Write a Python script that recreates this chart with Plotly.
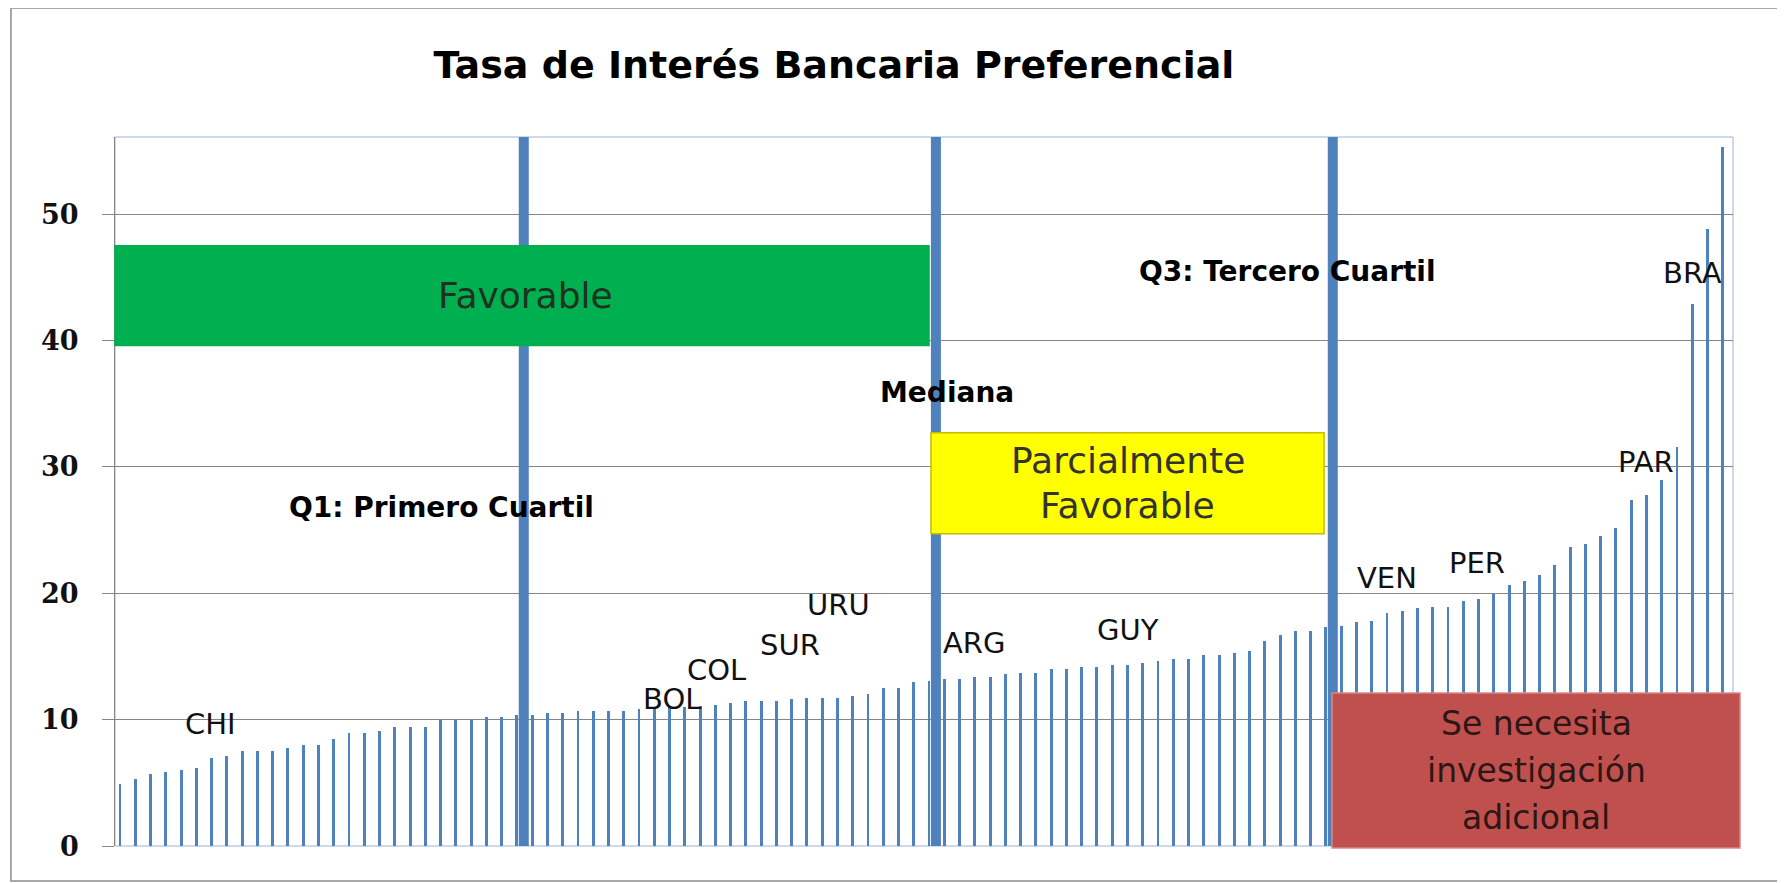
import plotly.graph_objects as go

# ---------------- data ----------------
rates = [
    4.93, 5.33, 5.73, 5.86, 5.99, 6.17, 6.97, 7.12, 7.55, 7.55,
    7.55, 7.73, 8.02, 8.02, 8.50, 8.97, 8.97, 9.13, 9.45, 9.45,
    9.45, 9.97, 9.97, 9.97, 10.24, 10.24, 10.37, 10.37, 10.50, 10.50,
    10.69, 10.69, 10.69, 10.69, 10.82, 10.90, 11.00, 11.00, 11.10, 11.13,
    11.32, 11.45, 11.45, 11.45, 11.61, 11.74, 11.74, 11.74, 11.90, 12.06,
    12.53, 12.53, 12.98, 13.06, 13.25, 13.25, 13.38, 13.38, 13.59, 13.72,
    13.72, 14.04, 14.04, 14.20, 14.20, 14.35, 14.35, 14.51, 14.64, 14.80,
    14.80, 15.12, 15.12, 15.28, 15.44, 16.23, 16.68, 16.99, 16.99, 17.30,
    17.44, 17.70, 17.84, 18.47, 18.63, 18.81, 18.94, 18.94, 19.38, 19.56,
    19.93, 20.65, 20.95, 21.45, 22.25, 23.64, 23.93, 24.55, 25.13, 27.35,
    27.75, 28.95, 31.56, 42.90, 48.84, 55.27,
]
bar_index = list(range(len(rates)))

quartile_index = [26, 53, 79]
quartile_labels = ["Q1: Primero Cuartil", "Mediana", "Q3: Tercero Cuartil"]
quartile_label_x = [20.86, 54.0, 76.31]
quartile_label_y = [26.76, 35.87, 45.45]

countries = ["CHI", "BOL", "COL", "SUR", "URU", "ARG", "GUY", "VEN", "PER", "PAR", "BRA"]
country_x = [5.77, 35.97, 38.89, 43.75, 46.87, 55.78, 65.87, 82.81, 88.73, 99.77, 102.82]
country_y = [9.66, 11.64, 13.94, 15.91, 19.08, 16.07, 17.10, 21.18, 22.41, 30.40, 45.37]

zone_lines = [["Favorable"], ["Parcialmente", "Favorable"], ["Se necesita", "investigación", "adicional"]]
zone_x0 = [-0.5, 52.96, 79.23]
zone_x1 = [52.83, 78.71, 105.96]
zone_y0 = [39.6, 24.7, -0.16]
zone_y1 = [47.5, 32.7, 12.11]
zone_fill = ["#00B050", "#FFFF00", "#C0504D"]
zone_line = ["#00B050", "#C9B800", "#D48A88"]
zone_text = ["#1c3322", "#333333", "#2e1616"]
zone_font = [36, 36, 33]
zone_spacing = [0, 45, 47]

y_ticks = [0, 10, 20, 30, 40, 50]
title_text = "Tasa de Interés Bancaria Preferencial"

# ---------------- figure ----------------
Y_TOP = 56.1
X_MIN, X_MAX = -0.5, len(rates) - 0.5
BLUE = "#4F81BD"
GRID = "#868686"


def to_paper_x(v):
    return (v - X_MIN) / (X_MAX - X_MIN)


def to_paper_y(v):
    return v / Y_TOP


fig = go.Figure(
    go.Bar(
        x=bar_index, y=rates, width=0.19, offset=-0.265,
        marker=dict(color=BLUE, line=dict(width=0)),
        hoverinfo="y",
    )
)

shapes = []
# plot-area border
shapes.append(dict(type="rect", xref="paper", yref="paper", x0=0, x1=1, y0=0, y1=1,
                   line=dict(color="#9DB3D3", width=1), layer="below"))
# outer chart border
shapes.append(dict(type="rect", xref="paper", yref="paper",
                   x0=-0.0643, x1=1.0297, y0=-0.0494, y1=1.182,
                   line=dict(color="#8C8C8C", width=1.5), layer="below"))
# quartile lines
for q in quartile_index:
    shapes.append(dict(type="line", xref="x", yref="y", x0=q + 0.28, x1=q + 0.28,
                       y0=0, y1=Y_TOP, line=dict(color=BLUE, width=10), layer="above"))
# zone boxes (paper refs so they may overhang the plot edge slightly)
for i in range(len(zone_lines)):
    shapes.append(dict(type="rect", xref="paper", yref="paper",
                       x0=to_paper_x(zone_x0[i]), x1=to_paper_x(zone_x1[i]),
                       y0=to_paper_y(zone_y0[i]), y1=to_paper_y(zone_y1[i]),
                       fillcolor=zone_fill[i], line=dict(color=zone_line[i], width=1.5),
                       layer="above"))

annotations = []
# y tick labels (placed explicitly to sit close to the tick marks)
for t in y_ticks:
    annotations.append(dict(
        x=-0.021, xref="paper", y=t, yref="y", text="<b>%d</b>" % t, showarrow=False,
        xanchor="right", yanchor="middle",
        font=dict(family="DejaVu Serif", size=27, color="#111111")))
for i, lines in enumerate(zone_lines):
    n = len(lines)
    for k, txt in enumerate(lines):
        annotations.append(dict(
            x=(zone_x0[i] + zone_x1[i]) / 2 + (0.2 if i == 0 else 0),
            y=(zone_y0[i] + zone_y1[i]) / 2,
            yshift=((n - 1) / 2 - k) * zone_spacing[i],
            xref="x", yref="y", text=txt, showarrow=False,
            font=dict(family="DejaVu Sans", size=zone_font[i], color=zone_text[i]),
            xanchor="center", yanchor="middle"))
for lab, lx, ly in zip(quartile_labels, quartile_label_x, quartile_label_y):
    annotations.append(dict(
        x=lx, y=ly, xref="x", yref="y", text="<b>" + lab + "</b>", showarrow=False,
        font=dict(family="DejaVu Sans", size=28, color="#000000"),
        xanchor="center", yanchor="middle"))
for lab, lx, ly in zip(countries, country_x, country_y):
    annotations.append(dict(
        x=lx, y=ly, xref="x", yref="y", text=lab, showarrow=False,
        font=dict(family="DejaVu Sans", size=29, color="#111111"),
        xanchor="center", yanchor="middle"))

# page body has an 8px default margin, so the figure is sized/offset for it
fig.update_layout(
    width=1777, height=875,
    margin=dict(l=107, r=52, t=129, b=37),
    paper_bgcolor="white", plot_bgcolor="white",
    showlegend=False, bargap=0,
    title=dict(text="<b>" + title_text + "</b>", xref="container", x=0.4648,
               xanchor="center", y=0.9349, yanchor="middle",
               font=dict(family="DejaVu Sans", size=38, color="#000000")),
    xaxis=dict(range=[X_MIN, X_MAX], showticklabels=False, showgrid=False,
               zeroline=False, ticks="", showline=False, fixedrange=True),
    yaxis=dict(range=[0, Y_TOP], tickmode="array", tickvals=y_ticks,
               showticklabels=False,
               showgrid=True, gridcolor=GRID, gridwidth=1, zeroline=False,
               showline=True, linecolor=GRID, linewidth=1,
               ticks="outside", ticklen=12, tickcolor=GRID, tickwidth=1,
               fixedrange=True),
    shapes=shapes, annotations=annotations,
)

fig.write_html("out.html")
